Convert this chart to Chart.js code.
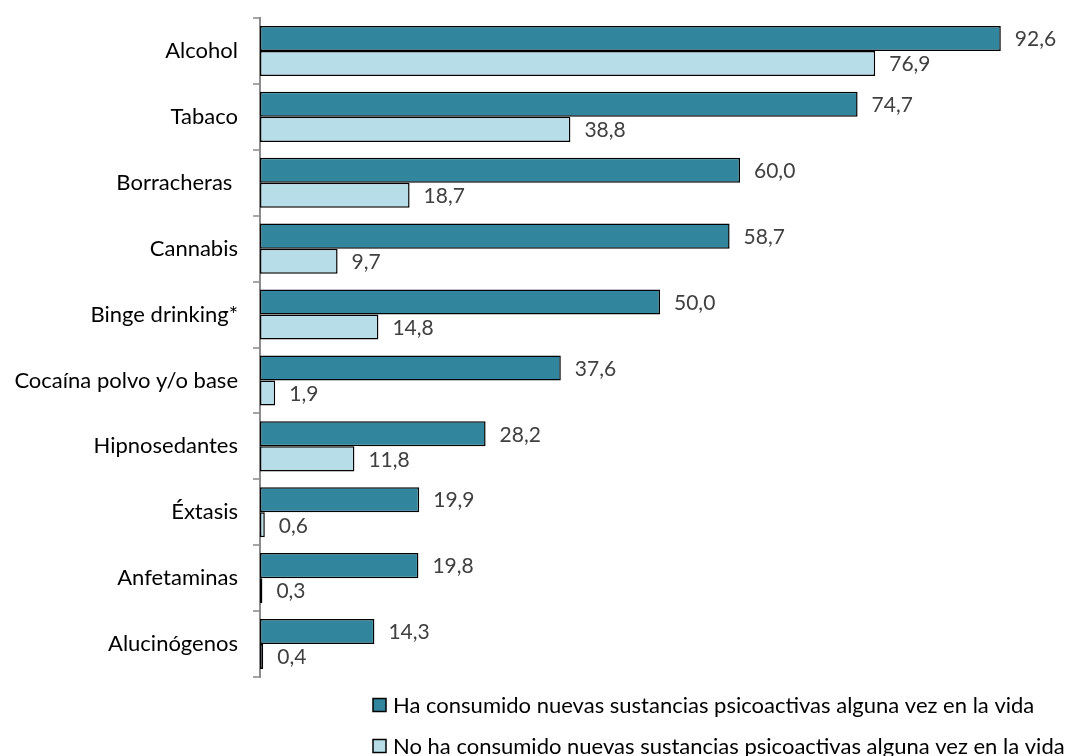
<!DOCTYPE html>
<html>
<head>
<meta charset="utf-8">
<script src="https://cdn.jsdelivr.net/npm/chart.js@4/dist/chart.umd.min.js"></script>
<style>
    html, body { margin: 0; padding: 0; background: #fff; }
    #wrap { width: 1073px; height: 756px; }
</style>
</head>
<body>
<div id="wrap"><canvas id="myChart"></canvas></div>
<script>
const categories = ['Alcohol', 'Tabaco', 'Borracheras ', 'Cannabis', 'Binge drinking*',
    'Cocaína polvo y/o base', 'Hipnosedantes', 'Éxtasis', 'Anfetaminas', 'Alucinógenos'];
const consumedNPS = [92.6, 74.7, 60.0, 58.7, 50.0, 37.6, 28.2, 19.9, 19.8, 14.3];
const notConsumedNPS = [76.9, 38.8, 18.7, 9.7, 14.8, 1.9, 11.8, 0.6, 0.3, 0.4];
const seriesNames = [
    'Ha consumido nuevas sustancias psicoactivas alguna vez en la vida',
    'No ha consumido nuevas sustancias psicoactivas alguna vez en la vida'
];

const FONT = 'Lato, "Open Sans", sans-serif';

// value labels to the right of each bar, decimal comma
const valueLabels = {
    id: 'valueLabels',
    afterDatasetsDraw(chart) {
        const ctx = chart.ctx;
        ctx.save();
        ctx.font = '21px ' + FONT;
        ctx.fillStyle = '#404040';
        ctx.textAlign = 'left';
        ctx.textBaseline = 'middle';
        chart.data.datasets.forEach(function(ds, i) {
            chart.getDatasetMeta(i).data.forEach(function(bar, j) {
                const txt = ds.data[j].toFixed(1).replace('.', ',');
                ctx.fillText(txt, bar.x + 14, bar.y + 1);
            });
        });
        ctx.restore();
    }
};

// legend: two left aligned rows under the plot
const bottomLegend = {
    id: 'bottomLegend',
    afterDraw(chart) {
        const ctx = chart.ctx;
        const rows = [705, 746];
        ctx.save();
        ctx.font = '22px ' + FONT;
        ctx.textBaseline = 'middle';
        chart.data.datasets.forEach(function(ds, i) {
            const y = rows[i];
            ctx.fillStyle = ds.backgroundColor;
            ctx.fillRect(373, y - 6.5, 13, 13);
            ctx.lineWidth = 1.5;
            ctx.strokeStyle = '#000';
            ctx.strokeRect(373, y - 6.5, 13, 13);
            ctx.fillStyle = '#000';
            ctx.fillText(ds.label, 393, y + 1);
        });
        ctx.restore();
    }
};

new Chart(document.getElementById('myChart'), {
    type: 'bar',
    data: {
        labels: categories,
        datasets: [
            {
                label: seriesNames[0],
                data: consumedNPS,
                backgroundColor: '#31859C',
                borderColor: '#000',
                borderWidth: 1.5,
                borderSkipped: false
            },
            {
                label: seriesNames[1],
                data: notConsumedNPS,
                backgroundColor: '#B7DEE8',
                borderColor: '#000',
                borderWidth: 1.5,
                borderSkipped: false
            }
        ]
    },
    options: {
        indexAxis: 'y',
        responsive: true,
        maintainAspectRatio: false,
        animation: false,
        categoryPercentage: 0.76,
        barPercentage: 1,
        layout: { padding: { top: 18, bottom: 79, right: 13, left: 0 } },
        plugins: {
            legend: { display: false },
            tooltip: { enabled: false }
        },
        scales: {
            x: {
                display: false,
                min: 0,
                max: 100
            },
            y: {
                afterFit: function(scale) {
                    scale.width = 260;
                    scale.paddingTop = 0;
                    scale.paddingBottom = 0;
                },
                border: { display: true, color: '#8c8c8c', width: 2 },
                grid: {
                    offset: true,
                    drawOnChartArea: false,
                    drawTicks: true,
                    tickLength: 7,
                    color: '#a6a6a6',
                    lineWidth: 2
                },
                ticks: {
                    color: '#000',
                    padding: 15,
                    font: { family: FONT, size: 22 }
                }
            }
        }
    },
    plugins: [valueLabels, bottomLegend]
});
</script>
</body>
</html>
